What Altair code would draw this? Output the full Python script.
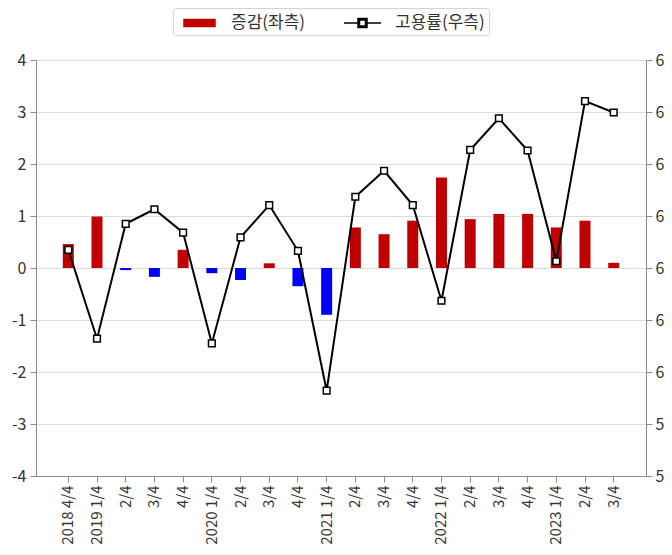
import altair as alt
import pandas as pd

periods = ["2018 4/4", "2019 1/4", "2019 2/4", "2019 3/4", "2019 4/4",
           "2020 1/4", "2020 2/4", "2020 3/4", "2020 4/4",
           "2021 1/4", "2021 2/4", "2021 3/4", "2021 4/4",
           "2022 1/4", "2022 2/4", "2022 3/4", "2022 4/4",
           "2023 1/4", "2023 2/4", "2023 3/4"]
tick_labels = ["2018 4/4", "2019 1/4", "2/4", "3/4", "4/4",
               "2020 1/4", "2/4", "3/4", "4/4",
               "2021 1/4", "2/4", "3/4", "4/4",
               "2022 1/4", "2/4", "3/4", "4/4",
               "2023 1/4", "2/4", "3/4"]
changes = [0.46, 0.99, -0.04, -0.17, 0.35, -0.10, -0.23, 0.09, -0.35, -0.90,
           0.78, 0.65, 0.91, 1.74, 0.94, 1.04, 1.04, 0.78, 0.91, 0.10]
rates = [62.35, 60.64, 62.85, 63.13, 62.68, 60.55, 62.59, 63.21, 62.33, 59.64,
         63.37, 63.87, 63.21, 61.37, 64.27, 64.88, 64.26, 62.13, 65.21, 64.99]
left_ticks = [-4, -3, -2, -1, 0, 1, 2, 3, 4]
right_ticks = [58, 59, 60, 61, 62, 63, 64, 65, 66]
series_names = ["증감(좌측)", "고용률(우측)"]

df = pd.DataFrame({"period": periods, "change": changes, "rate": rates})

FONT = "Noto Sans CJK KR"
TXT = "#333333"
AX = "#8c8c8c"
label_js = "[" + ",".join("'" + t + "'" for t in tick_labels) + "]"
period_js = "[" + ",".join("'" + p + "'" for p in periods) + "]"
label_expr = f"{label_js}[indexof({period_js}, datum.value)]"

test_bar = f"datum.value === '{series_names[0]}'"
rect_path = "M-0.4,-0.35H2.7V0.35H-0.4Z"
line_path = ("M-0.8,0H0.6M1.5,0H2.9"
             "M0.6,-0.45H1.5V0.45H0.6Z"
             "M0.75,-0.3V0.3H1.35V-0.3Z")
legend = alt.Legend(
    title=None, orient="none", legendX=137, legendY=-52, direction="horizontal",
    strokeColor="#d4d4d4", fillColor="white", padding=4, cornerRadius=2,
    labelFontSize=17, labelFont=FONT, labelColor=TXT, labelOffset=32,
    columnPadding=35, symbolSize=400,
    symbolType=alt.ExprRef(expr=f"{test_bar} ? '{rect_path}' : '{line_path}'"),
    symbolFillColor=alt.ExprRef(expr=f"{test_bar} ? '#C00000' : 'white'"),
    symbolStrokeColor=alt.ExprRef(expr=f"{test_bar} ? '#C00000' : 'black'"),
    symbolStrokeWidth=1.5, symbolOpacity=1,
)
color_scale = alt.Scale(domain=series_names, range=["#C00000", "black"])

x_enc = alt.X("period:N", sort=periods,
              scale=alt.Scale(paddingInner=0.2, paddingOuter=0.725),
              axis=alt.Axis(title=None, labelAngle=270, labelExpr=label_expr,
                            labelFontSize=15, labelColor=TXT, labelFont=FONT,
                            tickSize=6, tickColor=AX, domainColor=AX,
                            labelPadding=3, grid=False))

bars = alt.Chart(df).transform_calculate(series=f"'{series_names[0]}'").mark_bar(size=11).encode(
    x=x_enc,
    y=alt.Y("change:Q", scale=alt.Scale(domain=[-4, 4], nice=False),
            axis=alt.Axis(title=None, values=left_ticks, orient="left", grid=True,
                          gridColor="#dcdcdc", labelFontSize=16, labelColor=TXT,
                          labelFont=FONT, tickSize=6, tickColor=AX,
                          domainColor=AX, labelPadding=4,
                          labelExpr="'' + datum.value")),
    color=alt.condition("datum.change < 0", alt.value("#0000FF"),
                        alt.Color("series:N", scale=color_scale, legend=legend)),
)

line = alt.Chart(df).transform_calculate(series=f"'{series_names[1]}'").mark_line(strokeWidth=2).encode(
    x=x_enc,
    y=alt.Y("rate:Q", scale=alt.Scale(domain=[58, 66], nice=False),
            axis=alt.Axis(title=None, values=right_ticks, orient="right", grid=False,
                          labelFontSize=16, labelColor=TXT, labelFont=FONT,
                          tickSize=6, tickColor=AX, domainColor=AX,
                          labelPadding=3, labelExpr="'' + datum.value")),
    color=alt.Color("series:N", scale=color_scale, legend=legend),
)

points = alt.Chart(df).mark_point(shape="square", size=45, filled=False, fill="white",
                                  stroke="black", strokeWidth=1.5, opacity=1).encode(
    x=x_enc,
    y=alt.Y("rate:Q", scale=alt.Scale(domain=[58, 66], nice=False)),
)

chart = alt.layer(bars, alt.layer(line, points)).resolve_scale(y="independent").properties(
    width=610, height=416,
    padding={"left": 28, "top": 52, "right": 18, "bottom": 70},
    autosize=alt.AutoSizeParams(type="none"),
).configure(font=FONT).configure_view(stroke=None)

chart.save("out.html", embed_options={"renderer": "svg", "actions": False})
